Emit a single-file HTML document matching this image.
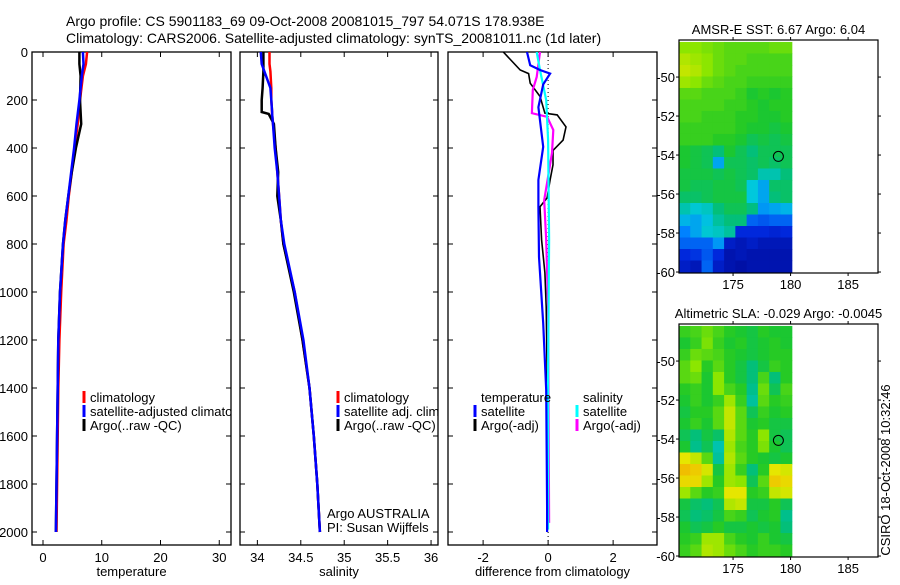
<!DOCTYPE html>
<html><head><meta charset="utf-8"><style>
body{margin:0;background:#fff;}
svg{font-family:"Liberation Sans",sans-serif;}
text{fill:#000;}
</style></head><body>
<svg id="fig" width="900" height="580" viewBox="0 0 900 580" xmlns="http://www.w3.org/2000/svg">
<defs>
<clipPath id="c1"><rect x="32" y="52" width="199" height="493"/></clipPath>
<clipPath id="c2"><rect x="240" y="52" width="198" height="493"/></clipPath>
<clipPath id="c3"><rect x="448" y="52" width="209" height="493"/></clipPath>
</defs>
<text x="66" y="26" font-size="14">Argo profile: CS 5901183_69 09-Oct-2008 20081015_797 54.071S 178.938E</text>
<text x="66" y="43" font-size="14">Climatology: CARS2006. Satellite-adjusted climatology: synTS_20081011.nc (1d later)</text>
<g id="root"></g>
</svg>
<script>
// ---- profile data ----
const tDepth=[0,50,100,200,300,400,500,600,700,800,1000,1200,1400,1600,1800,2000];
const tClim=[7.5,7.3,6.8,6.3,5.9,5.4,4.9,4.4,4.0,3.5,3.1,2.8,2.6,2.5,2.4,2.3];
const tSat=[6.8,6.9,6.6,6.2,5.7,5.3,4.8,4.3,3.8,3.4,2.9,2.6,2.5,2.4,2.3,2.2];
const tArgo=[6.2,6.2,6.4,6.3,6.5,5.6,4.9,4.3,3.8,3.4,2.9,2.6,2.5,2.4,2.3,2.2];
const sDepth=[0,50,80,150,200,250,258,300,400,500,600,700,800,1000,1200,1400,1600,1800,2000];
const sClim=[34.14,34.14,34.15,34.16,34.16,34.17,34.17,34.18,34.21,34.23,34.25,34.27,34.3,34.43,34.52,34.6,34.65,34.69,34.72];
const sSat=[34.04,34.05,34.08,34.15,34.16,34.17,34.17,34.18,34.2,34.23,34.25,34.27,34.31,34.43,34.53,34.6,34.65,34.69,34.72];
const sArgo=[34.07,34.07,34.07,34.06,34.05,34.05,34.13,34.19,34.21,34.24,34.23,34.27,34.3,34.42,34.52,34.6,34.65,34.69,34.72];
const dTArgoDepth=[0,75,90,130,185,255,262,312,367,410,470,533,608,645,783,920,1062,1337,1617,1962];
const dTArgo=[-1.38,-0.86,-0.6,-0.55,-0.25,-0.1,0.28,0.55,0.46,0.15,0.15,0.06,-0.03,-0.25,-0.2,-0.1,-0.06,-0.03,-0.03,-0.03];
const dTSatDepth=[0,55,75,90,135,230,395,533,645,854,1130,1408,1895,2000];
const dTSat=[-0.65,-0.55,-0.25,0.06,-0.15,-0.3,-0.15,-0.3,-0.3,-0.28,-0.15,-0.06,-0.03,-0.03];
const dSArgoDepth=[0,104,158,255,270,325,420,545,617,783,1062,1962];
const dSArgo=[-0.25,-0.35,-0.47,-0.5,-0.03,0.16,0.12,-0.03,-0.12,-0.06,0,0.03];
const dSSatDepth=[0,75,200,367,783,1337,1990];
const dSSat=[-0.35,-0.25,-0.06,0,0.03,0,0];
const depthTicks=[0,200,400,600,800,1000,1200,1400,1600,1800,2000];
const tTicks=[0,10,20,30];
const sTicks=[34,34.5,35,35.5,36];
const dTicks=[-2,0,2];
// ---- map data (colour index 0..1), rows north->south, cols west->east ----
const sstRows=[
[.78,.78,.76,.74,.72,.72,.72,.72,.74,.74],
[.82,.8,.78,.74,.72,.72,.7,.7,.7,.7],
[.84,.82,.78,.74,.72,.7,.7,.7,.7,.7],
[.8,.78,.74,.72,.7,.7,.68,.68,.68,.68],
[.72,.72,.7,.7,.7,.68,.64,.66,.64,.66],
[.7,.7,.7,.7,.68,.68,.66,.64,.66,.66],
[.7,.7,.68,.68,.68,.66,.66,.64,.64,.66],
[.68,.68,.68,.68,.68,.66,.64,.64,.62,.64],
[.68,.68,.68,.66,.66,.64,.6,.62,.6,.62],
[.64,.62,.6,.56,.64,.6,.56,.6,.6,.6],
[.64,.62,.6,.4,.6,.6,.58,.6,.58,.6],
[.62,.62,.62,.6,.62,.6,.58,.5,.5,.56],
[.62,.6,.6,.62,.62,.6,.45,.4,.58,.58],
[.58,.58,.6,.62,.62,.62,.45,.4,.56,.58],
[.5,.46,.48,.56,.6,.6,.55,.38,.4,.42],
[.42,.4,.44,.52,.56,.56,.3,.28,.3,.3],
[.35,.4,.46,.48,.52,.2,.2,.2,.18,.2],
[.3,.3,.3,.38,.15,.12,.15,.12,.12,.12],
[.2,.22,.28,.2,.1,.12,.1,.1,.1,.1],
[.15,.12,.3,.15,.1,.08,.1,.1,.1,.1]];
const slaRows=[
[.68,.7,.74,.7,.66,.64,.62,.66,.64,.64],
[.64,.68,.76,.68,.64,.66,.62,.64,.66,.64],
[.68,.74,.72,.7,.66,.64,.62,.64,.66,.66],
[.72,.78,.66,.72,.66,.62,.56,.62,.68,.66],
[.72,.74,.64,.78,.66,.62,.56,.7,.56,.66],
[.66,.68,.64,.78,.7,.66,.54,.74,.6,.7],
[.64,.68,.64,.68,.8,.68,.52,.72,.66,.68],
[.62,.66,.66,.72,.84,.72,.6,.68,.64,.66],
[.64,.68,.64,.72,.84,.72,.64,.66,.62,.62],
[.6,.56,.62,.58,.82,.72,.66,.78,.62,.6],
[.64,.54,.6,.5,.8,.7,.66,.76,.64,.6],
[.88,.84,.72,.52,.82,.72,.66,.64,.62,.64],
[.94,.92,.86,.62,.8,.68,.56,.66,.88,.86],
[.9,.9,.8,.66,.8,.78,.6,.72,.92,.9],
[.8,.72,.66,.68,.88,.88,.66,.68,.84,.86],
[.62,.58,.56,.6,.82,.84,.62,.62,.66,.6],
[.6,.56,.58,.62,.7,.68,.6,.64,.66,.54],
[.64,.6,.62,.66,.62,.62,.64,.62,.64,.56],
[.66,.68,.8,.8,.7,.66,.64,.68,.64,.62],
[.68,.72,.82,.8,.74,.7,.66,.68,.68,.66]];
const mapLonRange=[170.3,180.1];
const mapLatRange=[-48.2,-60];
const lonTicks=[175,180,185];
const latTicks=[-50,-52,-54,-56,-58,-60];
const argoPos=[178.94,-54.07];

const NS='http://www.w3.org/2000/svg';
const root=document.getElementById('root');
function el(tag,attrs,parent,txt){const e=document.createElementNS(NS,tag);for(const k in attrs)e.setAttribute(k,attrs[k]);if(txt!==undefined)e.textContent=txt;(parent||root).appendChild(e);return e;}

const Y0=52,Y1=545;
const yD=d=>52+d*0.24;
function panel(name,x0,x1,xmin,xmax,xticks,xlabel,showY,clip){
  const g=el('g',{});
  
  
  const xs=v=>x0+(v-xmin)/(xmax-xmin)*(x1-x0);
  const fr=el('rect',{x:x0,y:Y0,width:x1-x0,height:Y1-Y0,fill:'none',stroke:'#000','stroke-width':1.3},g);
  
  
  depthTicks.forEach(d=>{
    const y=yD(d);
    el('line',{x1:x0,x2:x0+5,y1:y,y2:y,stroke:'#000'},g);
    el('line',{x1:x1-5,x2:x1,y1:y,y2:y,stroke:'#000'},g);
    if(showY){const t=el('text',{x:x0-4,y:y+5,'font-size':13,'text-anchor':'end'},g,String(d));
      
      }
  });
  xticks.forEach(v=>{
    const x=xs(v);
    el('line',{x1:x,x2:x,y1:Y1,y2:Y1-5,stroke:'#000'},g);
    el('line',{x1:x,x2:x,y1:Y0,y2:Y0+5,stroke:'#000'},g);
    const t=el('text',{x:x,y:562,'font-size':13,'text-anchor':'middle'},g,String(v));
    
    
  });
  const xl=el('text',{x:(x0+x1)/2,y:576,'font-size':13,'text-anchor':'middle'},g,xlabel);
  
  
  const cg=el('g',{'clip-path':'url(#'+clip+')'},g);
  return {g,cg,xs};
}
function line(p,depths,vals,color,name,w){
  const pts=depths.map((d,i)=>p.xs(vals[i]).toFixed(1)+','+yD(d).toFixed(1)).join(' ');
  const l=el('polyline',{points:pts,fill:'none',stroke:color,'stroke-width':w||2.5},p.cg);
  
  
}
function legend(p,x,y,color,label,name){
  if(color){const m=el('line',{x1:x,x2:x,y1:y-11,y2:y+1,stroke:color,'stroke-width':3},p.cg);}
  const t=el('text',{x:x+6,y:y,'font-size':13},p.cg,label);
  
  
}
// panel 1
const p1=panel('temperature-panel',32,231,-1.87,32,tTicks,'temperature',true,'c1');
line(p1,tDepth,tClim,'#f00','temp-climatology-line');
line(p1,tDepth,tArgo,'#000','temp-argo-line');
line(p1,tDepth,tSat,'#00f','temp-satellite-line');
legend(p1,84,402,'#f00','climatology','legend-climatology');
legend(p1,84,416,'#00f','satellite-adjusted climatology','legend-satellite');
legend(p1,84,430,'#000','Argo(..raw -QC)','legend-argo');
// panel 2
const p2=panel('salinity-panel',240,438,33.80,36.08,sTicks,'salinity',false,'c2');
line(p2,sDepth,sClim,'#f00','sal-climatology-line');
line(p2,sDepth,sArgo,'#000','sal-argo-line');
line(p2,sDepth,sSat,'#00f','sal-satellite-line');
legend(p2,338,402,'#f00','climatology','legend-climatology');
legend(p2,338,416,'#00f','satellite adj. clim.','legend-satellite');
legend(p2,338,430,'#000','Argo(..raw -QC)','legend-argo');
legend(p2,321,518,null,'Argo AUSTRALIA','argo-australia-note');
legend(p2,321,532,null,'PI: Susan Wijffels','pi-note');
// panel 3
const p3=panel('difference-panel',448,657,-3.08,3.35,dTicks,'difference from climatology',false,'c3');
const zx=p3.xs(0);
el('line',{x1:zx,x2:zx,y1:Y0,y2:Y1,stroke:'#000','stroke-dasharray':'1,3'},p3.cg);
line(p3,dTArgoDepth,dTArgo,'#000','diff-temp-argo-line',1.6);
line(p3,dSArgoDepth,dSArgo,'#f0f','diff-sal-argo-line',2.2);
line(p3,dSSatDepth,dSSat,'#0ff','diff-sal-satellite-line',2.2);
line(p3,dTSatDepth,dTSat,'#00f','diff-temp-satellite-line',2.2);
legend(p3,475,402,null,'temperature','legend-temperature-heading');
legend(p3,475,416,'#00f','satellite','legend-temp-satellite');
legend(p3,475,430,'#000','Argo(-adj)','legend-temp-argo');
legend(p3,577,402,null,'salinity','legend-salinity-heading');
legend(p3,577,416,'#0ff','satellite','legend-sal-satellite');
legend(p3,577,430,'#f0f','Argo(-adj)','legend-sal-argo');

// colour map
const stops=[[0,[0,0,130]],[0.2,[0,40,220]],[0.35,[0,130,255]],[0.45,[0,200,220]],[0.55,[0,190,130]],[0.65,[30,200,40]],[0.78,[140,230,0]],[0.88,[230,230,0]],[1,[250,150,0]]];
function cmap(v){for(let i=1;i<stops.length;i++){if(v<=stops[i][0]){const a=stops[i-1],b=stops[i];const t=(v-a[0])/(b[0]-a[0]);return 'rgb('+a[1].map((c,k)=>Math.round(c+(b[1][k]-c)*t)).join(',')+')';}}return 'rgb(250,150,0)';}
function mapPanel(name,top,bot,rows,title){
  const x0=679,x1=878,lonMin=170.3,lonMax=187.6;
  const latTop=-48.1, latBot=-60.05;
  const lx=v=>x0+(v-lonMin)/(lonMax-lonMin)*(x1-x0);
  const ly=v=>top+(v-latTop)/(latBot-latTop)*(bot-top);
  const g=el('g',{});
  
  
  const nr=rows.length,nc=rows[0].length;
  const cx0=lx(mapLonRange[0]),cx1=lx(mapLonRange[1]),cy0=ly(mapLatRange[0]),cy1=ly(mapLatRange[1]);
  const cw=(cx1-cx0)/nc,ch=(cy1-cy0)/nr;
  rows.forEach((r,i)=>r.forEach((v,j)=>{
    const c=el('rect',{x:(cx0+j*cw).toFixed(2),y:(cy0+i*ch).toFixed(2),width:(cw+0.6).toFixed(2),height:(ch+0.6).toFixed(2),fill:cmap(v)},g);
    
    
  }));
  el('rect',{x:x0,y:top,width:x1-x0,height:bot-top,fill:'none',stroke:'#000','stroke-width':1.2},g);
  lonTicks.forEach(v=>{const x=lx(v);
    el('line',{x1:x,x2:x,y1:top,y2:top-3,stroke:'#000'},g);
    el('line',{x1:x,x2:x,y1:bot,y2:bot+3,stroke:'#000'},g);
    const t=el('text',{x:x,y:bot+16,'font-size':13,'text-anchor':'middle'},g,String(v));
    
    });
  latTicks.forEach(v=>{const y=ly(v);
    el('line',{x1:x0,x2:x0-3,y1:y,y2:y,stroke:'#000'},g);
    el('line',{x1:x1,x2:x1+3,y1:y,y2:y,stroke:'#000'},g);
    const t=el('text',{x:x0-4,y:y+5,'font-size':13,'text-anchor':'end'},g,String(v));
    
    });
  const c=el('circle',{cx:lx(argoPos[0]),cy:ly(argoPos[1]),r:5,fill:'none',stroke:'#000','stroke-width':1},g);
  
  
  const t=el('text',{x:(x0+x1)/2,y:top-6,'font-size':13,'text-anchor':'middle'},g,title);
  
  
}
mapPanel('sst-map',40,273,sstRows,'AMSR-E SST: 6.67 Argo: 6.04');
mapPanel('sla-map',324,557,slaRows,'Altimetric SLA: -0.029 Argo: -0.0045');
const cs=el('text',{x:0,y:0,'font-size':13,'text-anchor':'middle',transform:'translate(890,470) rotate(-90)'},root,'CSIRO 18-Oct-2008 10:32:46');


</script>
</body></html>
